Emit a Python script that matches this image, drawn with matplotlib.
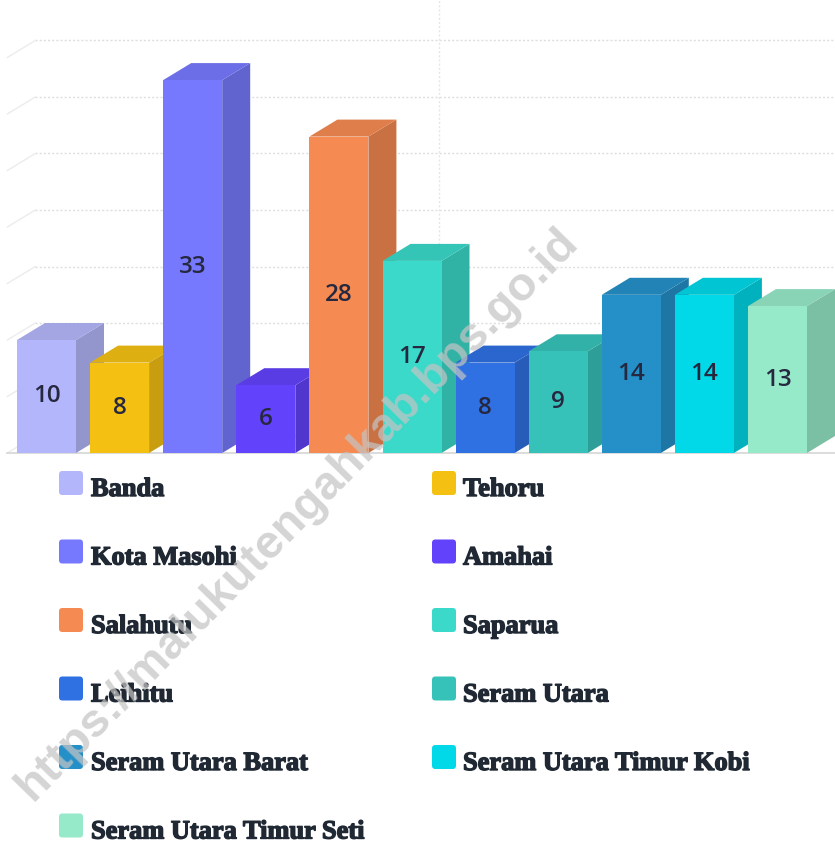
import matplotlib
matplotlib.use("Agg")
import matplotlib.pyplot as plt
from matplotlib.patches import Polygon, Rectangle, FancyBboxPatch
import matplotlib.colors as mcolors
import matplotlib.patheffects as pe
import numpy as np

categories = ["Banda", "Tehoru", "Kota Masohi", "Amahai", "Salahutu", "Saparua",
              "Leihitu", "Seram Utara", "Seram Utara Barat", "Seram Utara Timur Kobi",
              "Seram Utara Timur Seti"]
values = [10, 8, 33, 6, 28, 17, 8, 9, 14, 14, 13]
colors = ["#b3b6fa", "#f4c012", "#7679fd", "#6342fb", "#f58a52", "#3ad9c9",
          "#2f70e2", "#37c2b9", "#2590c8", "#01d9e8", "#96e9c9"]
grid_values = [0, 5, 10, 15, 20, 25, 30, 35]
watermark = "https://malukutengahkab.bps.go.id"

W, H = 835, 843
fig = plt.figure(figsize=(W / 100, H / 100), dpi=100)
ax = fig.add_axes([0, 0, 1, 1])
ax.axis("off")

PX_X, X0 = 73.1, 46.5
PX_Y, Y0 = 11.3, 453
ax.set_xlim((0 - X0) / PX_X, (W - X0) / PX_X)
ax.set_ylim((Y0 - H) / PX_Y, Y0 / PX_Y)

bw = 59 / PX_X
ddx = 28 / PX_X
ddy = 17 / PX_Y

def shade(c, f):
    r, g, b = mcolors.to_rgb(c)
    return (r * f, g * f, b * f)

xl, xr = ax.get_xlim()
wall_x = -0.5 - 0.036
for gv in grid_values:
    ax.plot([wall_x + ddx, xr], [gv + ddy, gv + ddy], color="#dedede", lw=1.0,
            ls=(0, (1.5, 1.5)), zorder=1)
    ax.plot([wall_x, wall_x + ddx], [gv, gv + ddy], color="#ececec", lw=1.0, zorder=1)
vx = (439 - X0) / PX_X
ax.plot([vx, vx], [0 + ddy, Y0 / PX_Y], color="#e6e6e6", lw=1.0,
        ls=(0, (1.5, 1.5)), zorder=1)
ax.plot([wall_x, xr], [0, 0], color="#d6d6d6", lw=1.2, zorder=1)

for i, (v, c) in enumerate(zip(values, colors)):
    l, r = i - bw / 2, i + bw / 2
    side = Polygon([(r, 0), (r + ddx, ddy), (r + ddx, v + ddy), (r, v)],
                   closed=True, facecolor=shade(c, 0.82), edgecolor="none", zorder=2 + i)
    top = Polygon([(l, v), (l + ddx, v + ddy), (r + ddx, v + ddy), (r, v)],
                  closed=True, facecolor=shade(c, 0.91), edgecolor="none", zorder=2 + i)
    front = Rectangle((l, 0), bw, v, facecolor=c, edgecolor="none", zorder=2 + i)
    ax.add_patch(side)
    ax.add_patch(top)
    ax.add_patch(front)
    ax.text(i, v / 2, str(v), ha="center", va="center", fontsize=17.5,
            family="Open Sans", fontweight="semibold", color="#26283f", zorder=30)

for k, (name, c) in enumerate(zip(categories, colors)):
    col, row = k % 2, k // 2
    mx = 59 if col == 0 else 432
    tx = 91 if col == 0 else 463
    my = 483 + 68.5 * row
    fx, fy = mx / W, 1 - (my + 12) / H
    box = FancyBboxPatch((fx, fy), 24 / W, 24 / H,
                         boxstyle="round,pad=0,rounding_size=0.004",
                         transform=fig.transFigure, facecolor=c, edgecolor="none")
    fig.patches.append(box)
    fig.text(tx / W, 1 - (496 + 68.5 * row) / H, name, ha="left", va="baseline",
             fontsize=19, family="Liberation Serif", fontweight="bold", color="#1f2833",
             path_effects=[pe.withStroke(linewidth=1.0, foreground="#1f2833")])

fig.text(298 / W, 1 - 514 / H, watermark, ha="center", va="center", rotation=45.6,
         rotation_mode="anchor", fontsize=34, family="Liberation Sans",
         fontweight="bold", color="#c4c4c4", alpha=0.72, zorder=50)

fig.savefig("out.png", dpi=100)
